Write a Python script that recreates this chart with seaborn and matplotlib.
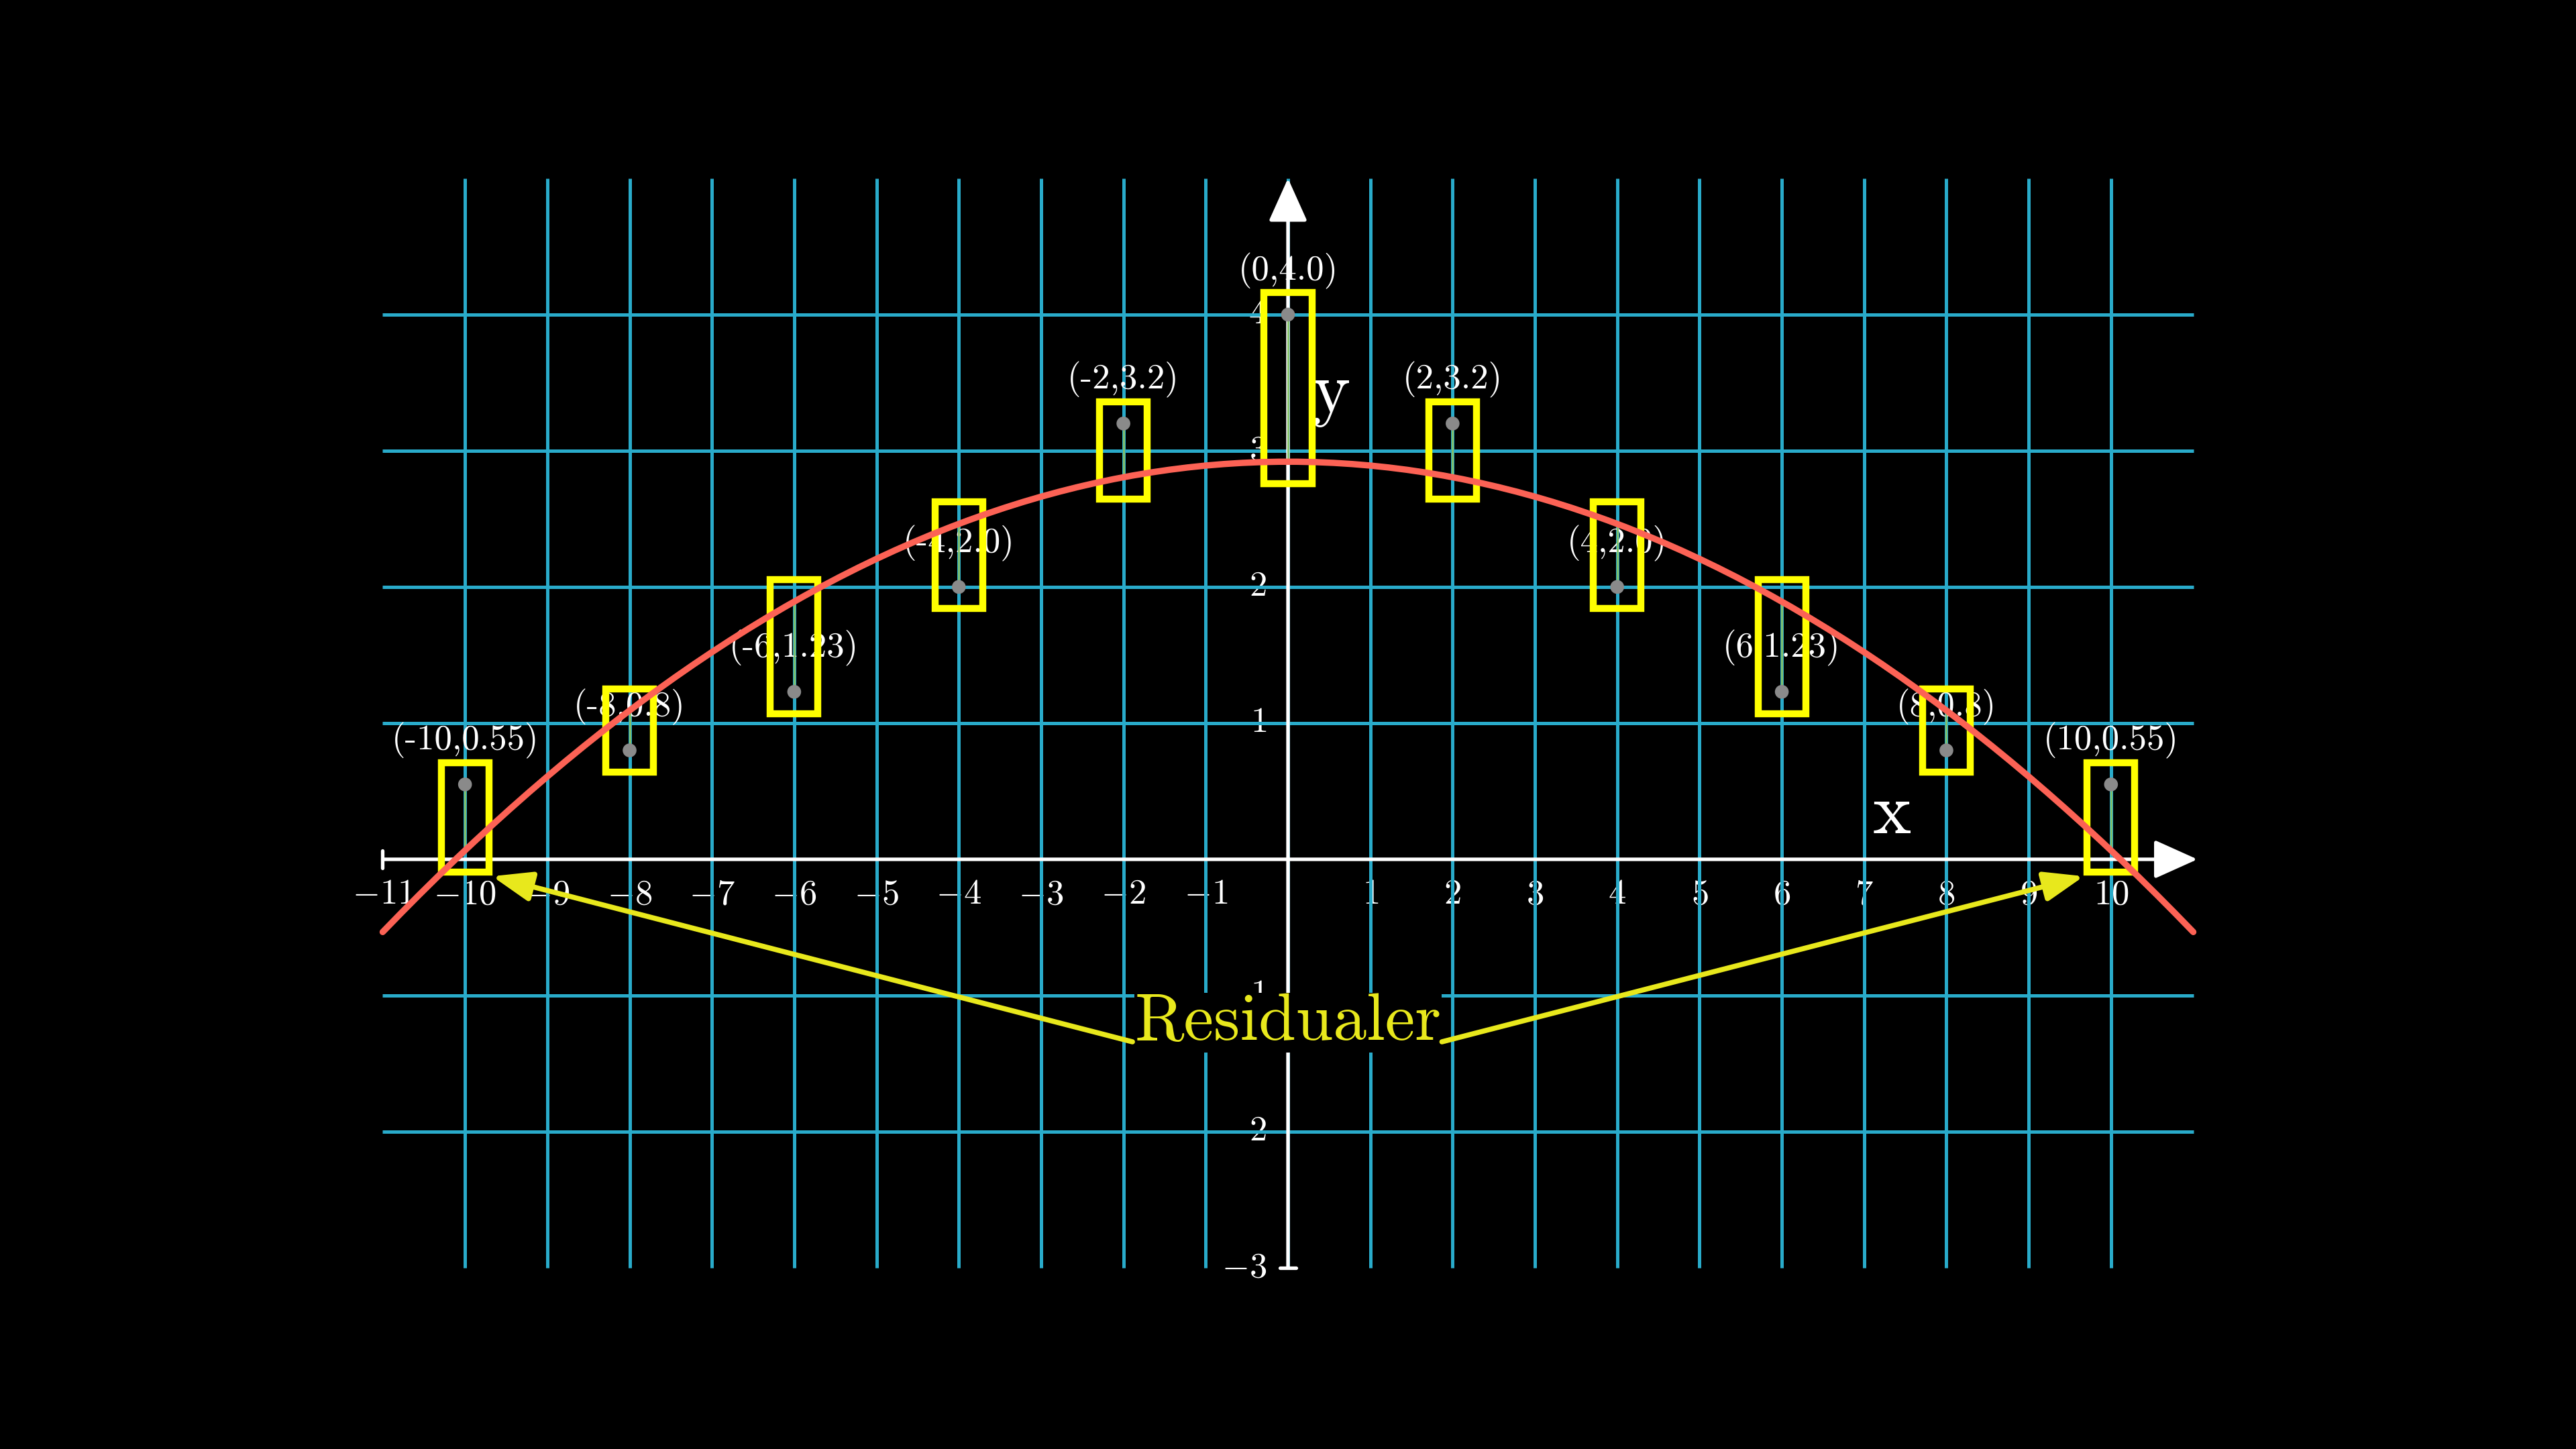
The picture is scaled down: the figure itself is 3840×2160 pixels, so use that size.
import numpy as np
import pandas as pd
import matplotlib
matplotlib.use("Agg")
import matplotlib.pyplot as plt
from matplotlib.patches import Rectangle
import seaborn as sns

# ---------------- data ----------------
x_pts = [-10, -8, -6, -4, -2, 0, 2, 4, 6, 8, 10]
y_pts = [0.55, 0.8, 1.23, 2.0, 3.2, 4.0, 3.2, 2.0, 1.23, 0.8, 0.55]
x_tick_vals = [-11, -10, -9, -8, -7, -6, -5, -4, -3, -2, -1, 1, 2, 3, 4, 5, 6, 7, 8, 9, 10]
y_tick_vals = [-3, -2, -1, 1, 2, 3, 4]
grid_x = list(range(-10, 11))
grid_y = [-2, -1, 1, 2, 3, 4]
annot_text = "Residualer"
x_label = "x"
y_label = "y"

# ---------------- style ----------------
sns.set_style("dark")
plt.rcParams["font.family"] = ["cmr10", "DejaVu Serif"]
plt.rcParams["mathtext.fontset"] = "cm"
plt.rcParams["axes.unicode_minus"] = False

BG = "black"
GRID = "#29ABCA"
CURVE = "#FC6255"
BOX = "#FFFF00"
TXT_YEL = "#E8E81C"
POINT = "#8A8A8A"
RESID = "#83C167"
WHITE = "white"

SERIF = ["cmr10", "DejaVu Serif"]

fig = plt.figure(figsize=(38.4, 21.6), dpi=100, facecolor=BG)
ax = fig.add_axes([0, 0, 1, 1])
ax.set_facecolor(BG)

df = pd.DataFrame({"x": x_pts, "y": y_pts})

# fitted quadratic (same as regplot order=2) for the residual boxes
coef = np.polyfit(df["x"], df["y"], 2)
fit_vals = np.polyval(coef, df["x"])

# grid lines
ax.vlines(grid_x, -3, 5, color=GRID, lw=3.6, zorder=2)
ax.hlines(grid_y, -11, 11, color=GRID, lw=3.6, zorder=2)

# axes with arrows
ax_lw = 3.8
ax.annotate("", xy=(11.05, 0), xytext=(-11, 0),
            arrowprops=dict(arrowstyle="-|>,head_length=1.0,head_width=0.45",
                            color=WHITE, lw=ax_lw, shrinkA=0, shrinkB=0,
                            mutation_scale=40), zorder=3)
ax.annotate("", xy=(0, 5.0), xytext=(0, -3),
            arrowprops=dict(arrowstyle="-|>,head_length=1.0,head_width=0.45",
                            color=WHITE, lw=ax_lw, shrinkA=0, shrinkB=0,
                            mutation_scale=40), zorder=3)
ax.plot([-11, -11], [-0.065, 0.065], color=WHITE, lw=ax_lw, zorder=3)
ax.plot([-0.1, 0.1], [-3, -3], color=WHITE, lw=ax_lw, zorder=3)

# tick labels (under the grid lines)
for v in x_tick_vals:
    s = f"${v}$" if v > 0 else f"$-{abs(v)}$"
    ax.text(v, -0.26, s, color=WHITE, fontsize=38, ha="center", va="center", zorder=1)
for v in y_tick_vals:
    s = f"${v}$" if v > 0 else f"$-{abs(v)}$"
    ax.text(-0.26, v, s, color=WHITE, fontsize=38, ha="right", va="center", zorder=1)

# axis labels
ax.text(7.34, 0.19, x_label, color=WHITE, fontsize=78, ha="center", va="baseline",
        family=SERIF, zorder=4)
ax.text(0.53, 3.28, y_label, color=WHITE, fontsize=78, ha="center", va="baseline",
        family=SERIF, zorder=4)

# fitted curve via seaborn (extends to current x-limits)
ax.set_xlim(-11, 11)
sns.regplot(data=df, x="x", y="y", order=2, ci=None, scatter=False, truncate=False,
            ax=ax, line_kws=dict(color=CURVE, lw=6.8, zorder=7, solid_capstyle="round"))

# residual boxes, residual lines, labels
hw = 0.29
pad = 0.16
for xi, yi, fi in zip(df["x"], df["y"], fit_vals):
    lo = min(yi, fi) - pad
    hi = max(yi, fi) + pad
    ax.add_patch(Rectangle((xi - hw, lo), 2 * hw, hi - lo, fill=False,
                           edgecolor=BOX, lw=7.5, joinstyle="miter", zorder=5))
    ax.text(xi, yi + 0.32, f"({xi},{yi})", color=WHITE, fontsize=38,
            ha="center", va="center", family=SERIF, zorder=4)
ax.vlines(df["x"], df["y"], fit_vals, color=RESID, lw=2.0, zorder=6)

# data points
sns.scatterplot(data=df, x="x", y="y", s=220, color=POINT, edgecolor="none",
                zorder=8, ax=ax, legend=False)

# "Residualer" annotation with arrows
ax.text(0, -1.325, annot_text, color=TXT_YEL, fontsize=72, ha="center", va="baseline",
        family=SERIF, zorder=4,
        bbox=dict(boxstyle="square,pad=0.0", facecolor=BG, edgecolor="none"))
i_left = 0
i_right = len(x_pts) - 1
bottom_left = min(y_pts[i_left], fit_vals[i_left]) - pad
bottom_right = min(y_pts[i_right], fit_vals[i_right]) - pad
for start, tip in [((-1.89, -1.34), (x_pts[i_left] + hw + 0.04, bottom_left - 0.03)),
                   ((1.87, -1.34), (x_pts[i_right] - hw - 0.04, bottom_right - 0.03))]:
    ax.annotate("", xy=tip, xytext=start,
                arrowprops=dict(arrowstyle="-|>,head_length=1.2,head_width=0.45",
                                color=TXT_YEL, lw=5.5, shrinkA=0, shrinkB=0,
                                mutation_scale=30), zorder=5)

# final view
ax.set_xlim(-15.65, 15.65)
ax.set_ylim(-4.33, 6.31)
ax.set_xlabel("")
ax.set_ylabel("")
ax.set_axis_off()

fig.savefig("out.png", dpi=100, facecolor=BG)
